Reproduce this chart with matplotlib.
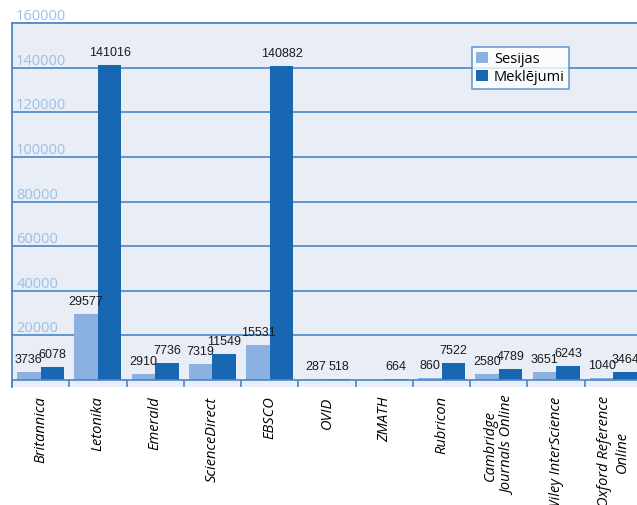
import matplotlib
matplotlib.use("Agg")
import matplotlib.pyplot as plt
import numpy as np

datubazes = ["Britannica", "Letonika", "Emerald", "ScienceDirect", "EBSCO", "OVID",
             "ZMATH", "Rubricon", "Cambridge\nJournals Online", "Wiley InterScience",
             "Oxford Reference\nOnline"]
sesijas = [3736, 29577, 2910, 7319, 15531, 287, 0, 860, 2580, 3651, 1040]
meklejumi = [6078, 141016, 7736, 11549, 140882, 518, 664, 7522, 4789, 6243, 3464]
y_ticks = [20000, 40000, 60000, 80000, 100000, 120000, 140000, 160000]

gaiss = "#8AB1E0"
tumss = "#1767B3"
linija = "#4A86C8"
fons = "#E9EEF6"

fig = plt.figure(figsize=(6.37, 5.06), dpi=100)
ax = fig.add_axes([12 / 637, 118 / 506, 630 / 637, 364 / 506])
ax.set_facecolor(fons)

x = np.arange(len(datubazes))
w = 0.41
b1 = ax.bar(x - w / 2, sesijas, w, color=gaiss, label="Sesijas", zorder=3)
b2 = ax.bar(x + w / 2, meklejumi, w, color=tumss, label="Meklējumi", zorder=3)

for barras, vertibas in [(b1, sesijas), (b2, meklejumi)]:
    for b, v in zip(barras, vertibas):
        if v == 0:
            continue
        ax.annotate(str(v), (b.get_x() + b.get_width() / 2, v), xytext=(0, 5),
                    textcoords="offset points", ha="center", va="bottom",
                    fontsize=9, family="Liberation Sans", color="#1a1a1a", zorder=5)

ax.set_xlim(-0.5, len(datubazes) - 0.5)
ax.set_ylim(-3100, 160000)

# gridlines + zero line
for yv in y_ticks[:-1]:
    ax.axhline(yv, color=linija, lw=1.2, zorder=1)
ax.axhline(0, color=linija, lw=1.2, zorder=4)

# y labels inside the plot, above the lines
ax.set_yticks(y_ticks)
ax.set_yticklabels([str(v) for v in y_ticks])
ax.tick_params(axis="y", length=0, pad=-3, labelsize=10.5, labelcolor="#9CBFE6")
for lab in ax.get_yticklabels():
    lab.set_horizontalalignment("left")
    lab.set_verticalalignment("bottom")
    lab.set_fontfamily("Open Sans")

# category labels
ax.set_xticks(x)
ax.set_xticklabels(datubazes, rotation=90, fontsize=10.5, style="italic",
                   family=["Open Sans", "DejaVu Sans"], ha="center", va="top",
                   multialignment="center")
ax.tick_params(axis="x", length=0, pad=6)
ax.set_xticks(np.arange(len(datubazes) + 1) - 0.5, minor=True)
ax.tick_params(axis="x", which="minor", direction="in", length=5, width=1.2, color=linija)

for s in ["top", "left", "right"]:
    ax.spines[s].set_color(linija)
    ax.spines[s].set_linewidth(1.3)
ax.spines["bottom"].set_visible(False)

leg = ax.legend(loc="upper left", bbox_to_anchor=(472 / 637, 1 - 48 / 506), bbox_transform=fig.transFigure,
                frameon=True, fancybox=False, handlelength=0.8, handleheight=0.8,
                handletextpad=0.4, borderpad=0.3, labelspacing=0.2, borderaxespad=0,
                prop={"family": "Open Sans", "size": 10.5})
leg.get_frame().set_edgecolor(linija)
leg.get_frame().set_linewidth(1.2)
leg.set_zorder(6)

fig.savefig("out.png", dpi=100)
